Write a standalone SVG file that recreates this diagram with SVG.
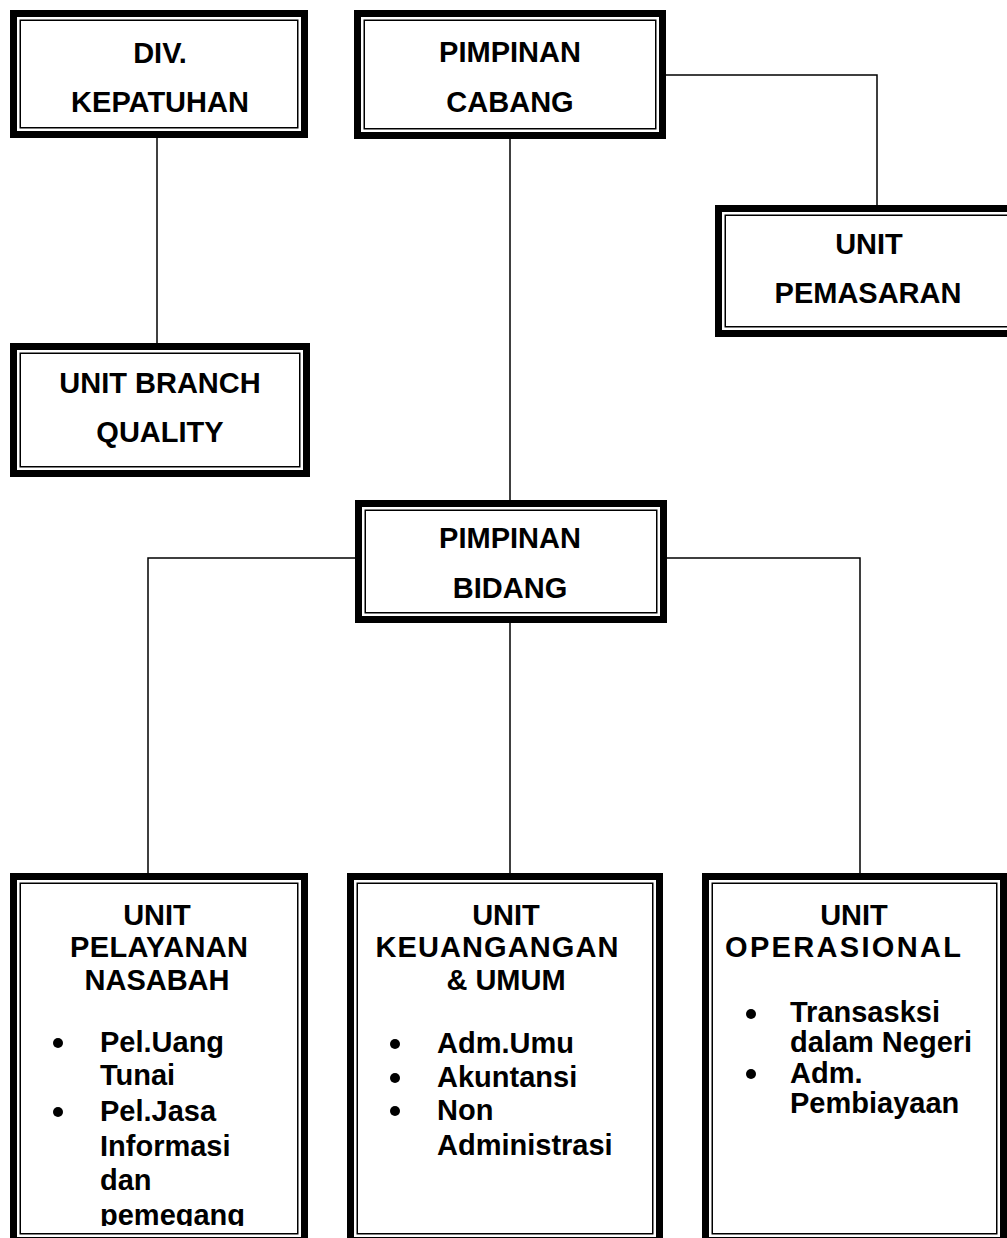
<svg xmlns="http://www.w3.org/2000/svg" width="1007" height="1238" viewBox="0 0 1007 1238">
<style>
.outer{fill:#fff;stroke:#000;stroke-width:7}
.inner{fill:none;stroke:#000;stroke-width:1.5}
.t{font-family:"Liberation Sans",Arial,sans-serif;font-weight:bold;font-size:29px;fill:#000;text-anchor:middle}
.l{font-family:"Liberation Sans",Arial,sans-serif;font-weight:bold;font-size:29px;fill:#000}
.c{fill:none;stroke:#000;stroke-width:1.5}
</style>
<defs>
<clipPath id="clip6"><rect x="0" y="0" width="1007" height="1226"/></clipPath>
</defs>
<rect width="1007" height="1238" fill="#fff"/>
<g id="connectors">
<path class="c" d="M157,138 V343"/>
<path class="c" d="M666,75 H877 V205"/>
<path class="c" d="M510,139 V500"/>
<path class="c" d="M355,558 H148 V873"/>
<path class="c" d="M667,558 H860 V873"/>
<path class="c" d="M510,623 V873"/>
</g>
<g id="div-kepatuhan">
<rect class="outer" x="13.5" y="13.5" width="291" height="121"/>
<rect class="inner" x="20.25" y="20.25" width="277.5" height="107.5"/>
<text class="t" x="160" y="63">DIV.</text>
<text class="t" x="160" y="112">KEPATUHAN</text>
</g>
<g id="pimpinan-cabang">
<rect class="outer" x="357.5" y="13.5" width="305" height="122"/>
<rect class="inner" x="364.25" y="20.25" width="291.5" height="108.5"/>
<text class="t" x="510" y="62">PIMPINAN</text>
<text class="t" x="510" y="112">CABANG</text>
</g>
<g id="unit-pemasaran">
<rect class="outer" x="718.5" y="208.5" width="310" height="125"/>
<rect class="inner" x="725.25" y="215.25" width="296.5" height="111.5"/>
<text class="t" x="869" y="254">UNIT</text>
<text class="t" x="868" y="303">PEMASARAN</text>
</g>
<g id="unit-branch-quality">
<rect class="outer" x="13.5" y="346.5" width="293" height="127"/>
<rect class="inner" x="20.25" y="353.25" width="279.5" height="113.5"/>
<text class="t" x="160" y="393">UNIT BRANCH</text>
<text class="t" x="160" y="442">QUALITY</text>
</g>
<g id="pimpinan-bidang">
<rect class="outer" x="358.5" y="503.5" width="305" height="116"/>
<rect class="inner" x="365.25" y="510.25" width="291.5" height="102.5"/>
<text class="t" x="510" y="548">PIMPINAN</text>
<text class="t" x="510" y="598">BIDANG</text>
</g>
<g id="unit-pelayanan-nasabah">
<rect class="outer" x="13.5" y="876.5" width="291" height="364"/>
<rect class="inner" x="20.25" y="883.25" width="277.5" height="350.5"/>
<text class="t" x="157" y="925">UNIT</text>
<text class="t" x="159" y="957" textLength="178" lengthAdjust="spacing">PELAYANAN</text>
<text class="t" x="157" y="990">NASABAH</text>
<circle cx="58" cy="1043" r="5"/>
<circle cx="58" cy="1112" r="5"/>
<g clip-path="url(#clip6)">
<text class="l" x="100" y="1052">Pel.Uang</text>
<text class="l" x="100" y="1085">Tunai</text>
<text class="l" x="100" y="1121">Pel.Jasa</text>
<text class="l" x="100" y="1156">Informasi</text>
<text class="l" x="100" y="1190">dan</text>
<text class="l" x="100" y="1225">pemegang</text>
</g>
</g>
<g id="unit-keuangan-umum">
<rect class="outer" x="350.5" y="876.5" width="309" height="364"/>
<rect class="inner" x="357.25" y="883.25" width="295.5" height="350.5"/>
<text class="t" x="506" y="925">UNIT</text>
<text class="t" x="497" y="957" textLength="243" lengthAdjust="spacing">KEUANGANGAN</text>
<text class="t" x="506" y="990">&amp; UMUM</text>
<circle cx="395" cy="1044" r="5"/>
<circle cx="395" cy="1078" r="5"/>
<circle cx="395" cy="1111" r="5"/>
<text class="l" x="437" y="1053">Adm.Umu</text>
<text class="l" x="437" y="1087">Akuntansi</text>
<text class="l" x="437" y="1120">Non</text>
<text class="l" x="437" y="1155">Administrasi</text>
</g>
<g id="unit-operasional">
<rect class="outer" x="705.5" y="876.5" width="298" height="364"/>
<rect class="inner" x="712.25" y="883.25" width="284.5" height="350.5"/>
<text class="t" x="854" y="925">UNIT</text>
<text class="t" x="843" y="957" textLength="236" lengthAdjust="spacing">OPERASIONAL</text>
<circle cx="751" cy="1014" r="5"/>
<circle cx="751" cy="1074" r="5"/>
<text class="l" x="790" y="1022">Transasksi</text>
<text class="l" x="790" y="1052">dalam Negeri</text>
<text class="l" x="790" y="1083">Adm.</text>
<text class="l" x="790" y="1113">Pembiayaan</text>
</g>
</svg>
